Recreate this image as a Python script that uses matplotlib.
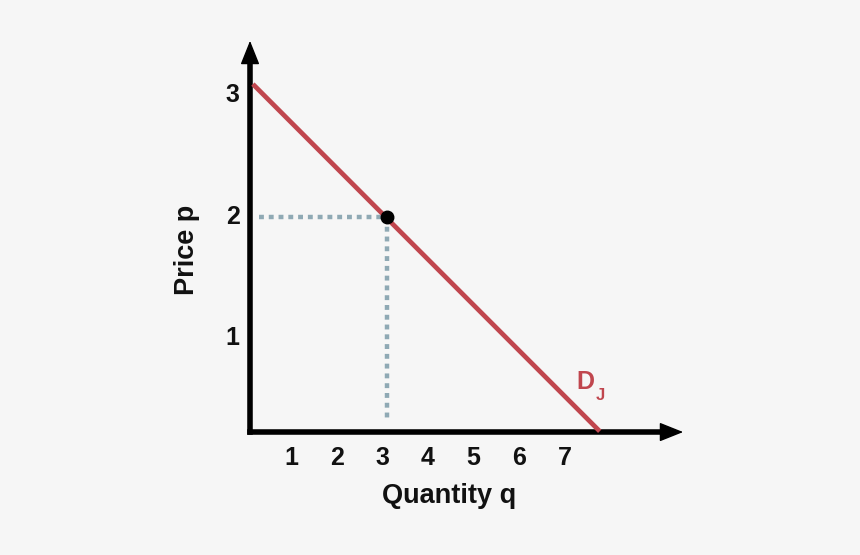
import matplotlib.pyplot as plt
from matplotlib import transforms

# demand curve endpoints (quantity, price)
demand_q = [0.1, 7.65]
demand_p = [3.08, 0.25]
# highlighted point
point_q = 3
point_p = 2
q_ticks = [1, 2, 3, 4, 5, 6, 7]
p_ticks = [1, 2, 3]

plt.rcParams['font.family'] = ['Liberation Sans', 'DejaVu Sans']
bg = '#f6f6f6'
red = '#c0464e'
dot_col = '#8fa9b4'
ink = '#111111'

fig = plt.figure(figsize=(8.6, 5.55), dpi=100, facecolor=bg)
ax = fig.add_axes([0, 0, 1, 1], facecolor=bg)
ax.set_xlim(-5.495, 13.407)
ax.set_ylim(-0.782, 3.786)
ax.axis('off')

x0 = 0.0      # where the price axis sits
y0 = 0.23     # where the quantity axis sits

# axes with arrows
ax.plot([x0, x0], [y0, 3.3], color='black', lw=4.0, solid_capstyle='projecting', zorder=3)
ax.plot([x0, 9.3], [y0, y0], color='black', lw=4.0, solid_capstyle='projecting', zorder=3)
arrow = dict(arrowstyle='-|>,head_length=0.75,head_width=0.3', color='black',
             lw=1, mutation_scale=20, shrinkA=0, shrinkB=0)
ax.annotate('', xy=(x0, 3.45), xytext=(x0, 3.2), arrowprops=arrow)
ax.annotate('', xy=(9.52, y0), xytext=(9.2, y0), arrowprops=arrow)

# dotted guide lines
ax.plot([0.2, point_q], [point_p, point_p], color=dot_col, lw=3.2,
        dashes=(1.1, 1.1), zorder=2)
ax.plot([point_q, point_q], [point_p, 0.31], color=dot_col, lw=3.2,
        dashes=(1.1, 1.1), zorder=2)

# demand line and point
ax.plot(demand_q, demand_p, color=red, lw=3.4, zorder=4)
ax.plot([point_q], [point_p], 'o', color='black', markersize=9, zorder=5)

# tick labels
off_x = transforms.offset_copy(ax.transData, fig=fig, x=-4, y=0, units='dots')
for q in q_ticks:
    ax.text(q, 0.02, str(q), transform=off_x, ha='center', va='center',
            fontsize=18, fontweight='bold', color=ink)
for p in p_ticks:
    ax.text(-0.38, p, str(p), ha='center', va='center',
            fontsize=18, fontweight='bold', color=ink)

ax.text(4.38, -0.3, 'Quantity q', ha='center', va='center',
        fontsize=19.5, fontweight='bold', color=ink)
ax.text(-1.38, 1.73, 'Price p', ha='center', va='center', rotation=90,
        fontsize=19.5, fontweight='bold', color=ink)

# curve label
ax.text(7.37, 0.64, 'D', ha='center', va='center', fontsize=18,
        fontweight='bold', color=red)
ax.text(7.7, 0.53, 'J', ha='center', va='center', fontsize=12,
        fontweight='bold', color=red)

fig.savefig('out.png', dpi=100, facecolor=bg)
